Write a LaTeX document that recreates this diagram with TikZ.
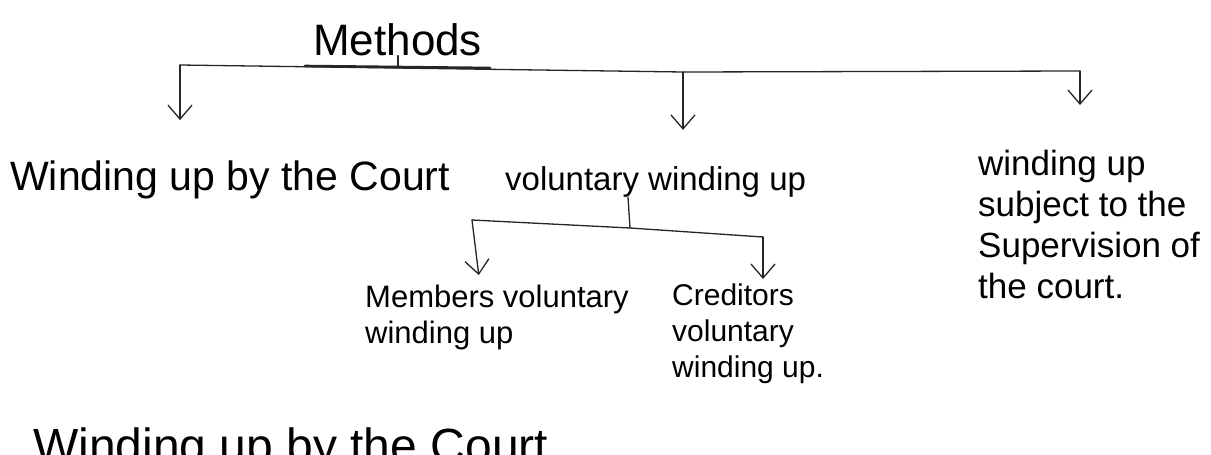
\documentclass[tikz,border=0pt]{standalone}
\usepackage{fontspec}
\setmainfont{Liberation Sans}
\usetikzlibrary{arrows.meta}
\tikzset{
  txt/.style={inner sep=0pt, anchor=base west, text=black},
  blk/.style={inner sep=0pt, anchor=north west, align=left, text=black},
  conn/.style={draw=black!85, line width=1.3pt, line cap=round, line join=round},
  arr/.style={conn, -{Straight Barb[length=14pt,width=24pt]}},
}
\begin{document}
\begin{tikzpicture}[x=1pt,y=-1pt]
\clip (0,0) rectangle (1211,455);
\fill[white] (0,0) rectangle (1211,455);

% texts
\node[txt, font=\fontsize{44}{50}\selectfont] (methods) at (313,55) {Methods};
\node[txt, font=\fontsize{41}{48}\selectfont] (court) at (10,190) {Winding up by the Court};
\node[txt, font=\fontsize{33}{38}\selectfont] (vol) at (505,190) {voluntary winding up};
\node[blk, font=\fontsize{35}{41}\selectfont] (sup) at (978,150) {winding up\\subject to the\\Supervision of\\the court.};
\node[blk, font=\fontsize{31}{36}\selectfont] (mem) at (365,285) {Members voluntary\\winding up};
\node[blk, font=\fontsize{30}{36}\selectfont] (cred) at (672,284) {Creditors\\voluntary\\winding up.};
\node[txt, font=\fontsize{48}{56}\selectfont] (bottom) at (33,462) {Winding up by the Court};

% junctions
\coordinate (jl) at (180,65);
\coordinate (jt) at (398,68);
\coordinate (jm) at (683,72);
\coordinate (jr) at (1080,71);
\coordinate (js) at (630,228);
\coordinate (sl) at (472,220);
\coordinate (sr) at (763,237);

% top level
\draw[conn] (jl) -- (jm) -- (jr);
\draw[conn, line width=2.6pt] (305,66) -- (490,68);
\draw[conn] (methods.south -| jt) -- (jt);
\draw[arr, shorten >=40pt] (jl) -- (jl |- court.north);
\draw[arr, shorten >=36pt] (jm) -- (jm |- vol.north);
\draw[arr, shorten >=45pt] (jr) -- (jr |- sup.north);

% sub level
\draw[conn] (vol.south -| 628,0) -- (js);
\draw[conn] (sl) -- (js) -- (sr);
\draw[arr, shorten >=10pt] (sl) -- (mem.north -| 480,0);
\draw[arr, shorten >=5pt] (sr) -- (sr |- cred.north);
\end{tikzpicture}
\end{document}
